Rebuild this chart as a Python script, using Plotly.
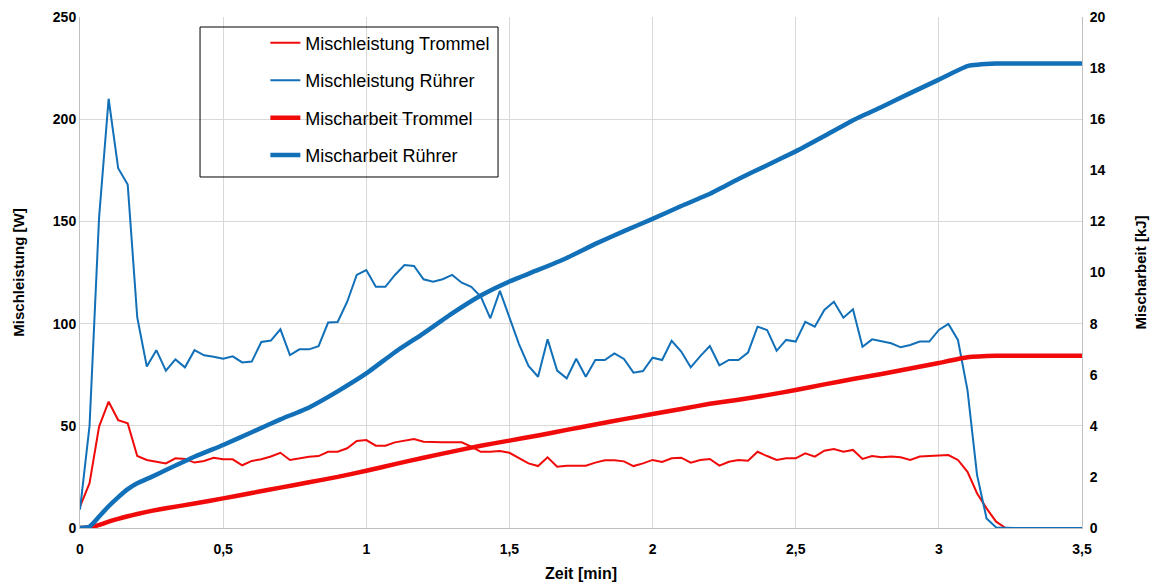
import plotly.graph_objects as go

# sample times (every 2 s = 1/30 min), 0 .. 3.5 min
zeit = [i / 30 for i in range(106)]

leistung_trommel = [
    10.4, 21.9, 49.6, 61.8, 52.8, 51.2, 35.2, 33.3, 32.4, 31.6,
    34.1, 33.8, 32.0, 32.8, 34.4, 33.6, 33.6, 30.7, 32.8, 33.6,
    35.0, 36.8, 33.3, 34.1, 34.9, 35.2, 37.3, 37.3, 39.0, 42.6,
    43.0, 40.3, 40.3, 41.9, 42.6, 43.5, 42.2, 41.9, 41.9, 41.9,
    41.9, 39.8, 37.3, 37.3, 37.7, 36.8, 34.3, 31.6, 30.3, 34.6,
    30.0, 30.5, 30.5, 30.5, 32.0, 33.1, 33.1, 32.6, 30.3, 31.6,
    33.3, 32.3, 34.1, 34.4, 32.0, 33.3, 33.8, 30.5, 32.4, 33.3,
    32.9, 37.3, 35.2, 33.3, 34.1, 34.1, 36.5, 34.9, 37.8, 38.6,
    37.3, 38.2, 33.8, 35.2, 34.6, 35.0, 34.6, 33.3, 35.0, 35.2,
    35.4, 35.7, 33.3, 27.5, 17.0, 9.6, 3.1, 0, 0, 0,
    0, 0, 0, 0, 0, 0,
]

leistung_ruehrer = [
    9.0, 50.0, 152.0, 210.0, 176.0, 168.0, 103.0, 79.0, 87.0, 77.0,
    82.5, 78.6, 87.0, 84.5, 83.8, 82.8, 84.0, 81.0, 81.4, 91.0,
    91.7, 97.2, 84.6, 87.4, 87.4, 89.0, 100.5, 100.8, 110.7, 123.8,
    126.2, 118.0, 118.0, 123.8, 128.7, 128.2, 121.7, 120.5, 121.7, 123.8,
    120.0, 118.0, 113.2, 102.6, 116.0, 103.5, 90.0, 79.3, 74.0, 92.3,
    77.0, 73.2, 82.8, 74.0, 82.2, 82.2, 85.4, 82.7, 76.0, 76.8,
    83.3, 82.2, 91.6, 86.3, 78.6, 84.1, 89.0, 79.6, 82.2, 82.2,
    85.8, 98.5, 96.9, 86.7, 92.0, 91.2, 100.9, 98.5, 106.7, 110.7,
    102.9, 107.0, 88.7, 92.3, 91.2, 90.4, 88.4, 89.5, 91.2, 91.2,
    96.9, 99.8, 92.0, 67.5, 26.0, 4.7, 0.3, 0, 0, 0,
    0, 0, 0, 0, 0, 0,
]

# cumulative work (kJ), read at coarser times
zeit_arbeit = [0, 0.033, 0.067, 0.1, 0.133, 0.167, 0.2, 0.25, 0.3, 0.4, 0.5,
               0.6, 0.7, 0.8, 0.9, 1.0, 1.1, 1.2, 1.3, 1.4, 1.5,
               1.6, 1.7, 1.8, 1.9, 2.0, 2.1, 2.2, 2.3, 2.4, 2.5,
               2.6, 2.7, 2.8, 2.9, 3.0, 3.1, 3.2, 3.3, 3.4, 3.5]

arbeit_trommel = [0, 0.02, 0.12, 0.25, 0.36, 0.46, 0.55, 0.67, 0.77, 0.96, 1.16,
                  1.37, 1.58, 1.79, 2.0, 2.24, 2.5, 2.75, 2.99, 3.22, 3.42,
                  3.62, 3.84, 4.05, 4.26, 4.46, 4.66, 4.86, 5.02, 5.2, 5.4,
                  5.62, 5.83, 6.03, 6.24, 6.46, 6.68, 6.74, 6.74, 6.74, 6.74]

arbeit_ruehrer = [0, 0.05, 0.45, 0.85, 1.2, 1.52, 1.75, 2.0, 2.27, 2.79, 3.25,
                  3.75, 4.25, 4.72, 5.35, 6.05, 6.88, 7.62, 8.4, 9.1, 9.65,
                  10.1, 10.57, 11.12, 11.62, 12.1, 12.6, 13.08, 13.66, 14.2, 14.74,
                  15.34, 15.96, 16.48, 17.02, 17.55, 18.08, 18.18, 18.18, 18.18, 18.18]

x_ticks = [0, 0.5, 1, 1.5, 2, 2.5, 3, 3.5]
y_ticks = [0, 50, 100, 150, 200, 250]
y2_ticks = list(range(0, 21, 2))

ROT = "#F00A0A"
BLAU = "#1170B8"
FONT = "Liberation Sans, Arial, sans-serif"

fig = go.Figure()
fig.add_trace(go.Scatter(x=zeit, y=leistung_trommel, name="Mischleistung Trommel",
                         mode="lines", line=dict(color=ROT, width=2), legendgroup="a"))
fig.add_trace(go.Scatter(x=zeit, y=leistung_ruehrer, name="Mischleistung Rührer",
                         mode="lines", line=dict(color=BLAU, width=2), legendgroup="b"))
fig.add_trace(go.Scatter(x=zeit_arbeit, y=arbeit_trommel, name="Mischarbeit Trommel",
                         mode="lines", line=dict(color=ROT, width=4.5, shape="spline", smoothing=0.4),
                         yaxis="y2", legendgroup="c"))
fig.add_trace(go.Scatter(x=zeit_arbeit, y=arbeit_ruehrer, name="Mischarbeit Rührer",
                         mode="lines", line=dict(color=BLAU, width=4.5, shape="spline", smoothing=0.4),
                         yaxis="y2", legendgroup="d"))

tickfont = dict(family=FONT, size=14, color="#000000", weight="bold")
titlefont = dict(family=FONT, size=15, color="#000000", weight="bold")

fig.update_layout(
    width=1160, height=587,
    margin=dict(l=80, r=78, t=17, b=59),
    paper_bgcolor="white", plot_bgcolor="white",
    separators=",.",
    showlegend=True,
    legend=dict(x=0.185, y=0.985, xanchor="left", yanchor="top",
                bgcolor="rgba(0,0,0,0)", borderwidth=0,
                font=dict(family=FONT, size=18, color="#000000"),
                tracegroupgap=11, itemwidth=30),
    xaxis=dict(range=[0, 3.5], tickvals=x_ticks, tickformat=".1~f", automargin=False,
               showgrid=True, gridcolor="#D9D9D9", gridwidth=1,
               showline=True, linecolor="#BFBFBF", linewidth=1,
               zeroline=False, ticks="", tickfont=tickfont, ticklabelstandoff=8,
               title=dict(text="Zeit [min]", font=dict(family=FONT, size=16, color="#000000", weight="bold"),
                          standoff=12)),
    yaxis=dict(range=[0, 250], tickvals=y_ticks, automargin=False,
               showgrid=True, gridcolor="#D9D9D9", gridwidth=1,
               showline=True, linecolor="#BFBFBF", linewidth=1,
               zeroline=False, ticks="", tickfont=tickfont,
               title=dict(text="Mischleistung [W]", font=titlefont, standoff=24)),
    yaxis2=dict(range=[0, 20], tickvals=y2_ticks, overlaying="y", side="right", automargin=False,
                showgrid=False, showline=True, linecolor="#BFBFBF", linewidth=1,
                zeroline=False, ticks="", tickfont=tickfont, ticklabelstandoff=4,
                title=dict(text="Mischarbeit [kJ]", font=titlefont, standoff=30)),
    shapes=[dict(type="rect", xref="paper", yref="paper",
                 x0=0.1198, x1=0.4172, y0=0.6869, y1=0.9804,
                 line=dict(color="#000000", width=1), fillcolor="rgba(0,0,0,0)")],
)

fig.write_html("out.html")
